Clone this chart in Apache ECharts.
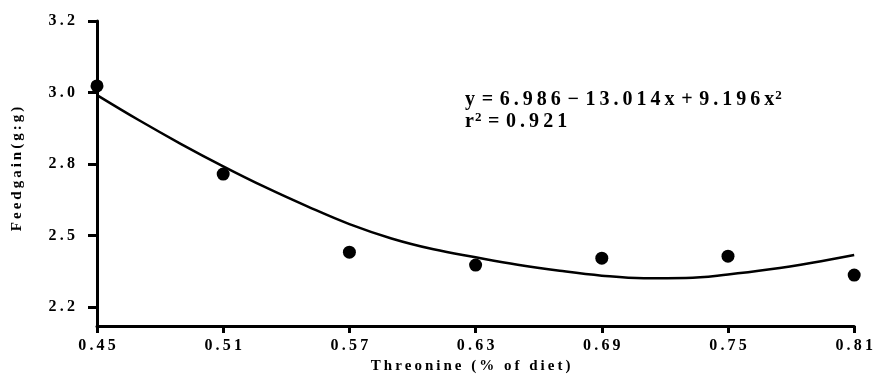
<!DOCTYPE html>
<html>
<head>
<meta charset="utf-8">
<script src="https://cdn.jsdelivr.net/npm/echarts@6/dist/echarts.min.js"></script>
<style>html,body{margin:0;padding:0;background:#fff;}#c{width:876px;height:387px;}</style>
</head>
<body>
<div id="c"></div>
<script>
// Observed feed:gain points
var threonine = [0.45, 0.51, 0.57, 0.63, 0.69, 0.75, 0.81];
var feedGain = [2.973, 2.665, 2.392, 2.347, 2.371, 2.378, 2.312];
// Fitted quadratic curve
var curveX = [0.45, 0.47, 0.49, 0.51, 0.53, 0.55, 0.57, 0.59, 0.61, 0.63, 0.65, 0.67, 0.69, 0.71, 0.73, 0.75, 0.77, 0.79, 0.81];
var curveY = [2.941, 2.853, 2.770, 2.692, 2.619, 2.552, 2.490, 2.440, 2.402, 2.374, 2.348, 2.327, 2.310, 2.301, 2.302, 2.314, 2.332, 2.355, 2.382];
// Axis ticks
var xTicks = [0.45, 0.51, 0.57, 0.63, 0.69, 0.75, 0.81];
var yTickPos = [2.2, 2.45, 2.7, 2.95, 3.2];
var yTickLabels = ['2.2', '2.5', '2.8', '3.0', '3.2'];

function spaced(s) { return s.split('').join('\u2009'); }
var serif = '"Liberation Serif", "Times New Roman", serif';
var sp = '\u2004';

var chart = echarts.init(document.getElementById('c'));
chart.setOption({
  animation: false,
  backgroundColor: '#fff',
  grid: { left: 97, right: 11, top: 21, bottom: 61 },
  xAxis: {
    type: 'value', min: 0.45, max: 0.81,
    name: spaced('Threonine (% of diet)'),
    nameLocation: 'middle', nameGap: 33,
    nameTextStyle: { fontFamily: serif, fontWeight: 'bold', fontSize: 15, color: '#000', padding: [0, 10, 0, 0] },
    axisLine: { lineStyle: { color: '#000', width: 3 } },
    axisTick: { show: true, length: 7, lineStyle: { color: '#000', width: 3 }, customValues: xTicks },
    axisLabel: { customValues: xTicks, margin: 12, color: '#000', fontFamily: serif, fontWeight: 'bold', fontSize: 16,
      formatter: function (v) { return spaced(v.toFixed(2)); } },
    splitLine: { show: false }
  },
  yAxis: {
    type: 'value', min: 2.134, max: 3.2,
    axisLine: { show: true, lineStyle: { color: '#000', width: 3 } },
    axisTick: { show: true, length: 9, lineStyle: { color: '#000', width: 3 }, customValues: yTickPos },
    axisLabel: { customValues: yTickPos, margin: 22, color: '#000', fontFamily: serif, fontWeight: 'bold', fontSize: 16,
      formatter: function (v) {
        var best = 0;
        for (var i = 1; i < yTickPos.length; i++) if (Math.abs(yTickPos[i] - v) < Math.abs(yTickPos[best] - v)) best = i;
        return spaced(yTickLabels[best]);
      } },
    splitLine: { show: false }
  },
  graphic: [
    { type: 'text', x: 17, y: 169, rotation: Math.PI / 2, style: {
        text: spaced('Feedgain(g:g)'), fontFamily: serif, fontWeight: 'bold', fontSize: 15, fill: '#000',
        align: 'center', verticalAlign: 'middle' } },
    { type: 'text', left: 465, top: 89, style: {
        text: '{a|y' + sp + '=' + sp + spaced('6.986') + sp + '\u2212' + sp + spaced('13.014x') + sp + '+' + sp + spaced('9.196x') + '}{s|2}\n{a|r}{s|2}{a|' + sp + '=' + sp + spaced('0.921') + '}',
        rich: {
          a: { fontFamily: serif, fontWeight: 'bold', fontSize: 20, fill: '#000', lineHeight: 22 },
          s: { fontFamily: serif, fontWeight: 'bold', fontSize: 13, fill: '#000', verticalAlign: 'top', lineHeight: 22, padding: [0, 0, 8, 1] }
        }
    } }
  ],
  series: [
    { type: 'line', data: curveX.map(function (x, i) { return [x, curveY[i]]; }), smooth: 0.4, showSymbol: false,
      lineStyle: { color: '#000', width: 2.5 }, z: 2 },
    { type: 'scatter', data: threonine.map(function (x, i) { return [x, feedGain[i]]; }), symbol: 'circle', symbolSize: 13,
      itemStyle: { color: '#000', opacity: 1 }, clip: false, z: 3 }
  ]
});
</script>
</body>
</html>
